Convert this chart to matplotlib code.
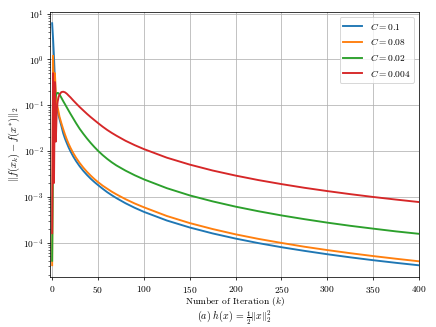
import matplotlib
matplotlib.use("Agg")
import matplotlib.pyplot as plt

plt.rcParams['font.family'] = 'serif'
plt.rcParams['font.serif'] = ['cmr10']
plt.rcParams['mathtext.fontset'] = 'cm'
plt.rcParams['axes.unicode_minus'] = False
plt.rcParams['axes.formatter.use_mathtext'] = True

iters = [0, 1, 2, 3, 4, 5, 6, 7, 8, 10, 12, 14, 16, 18, 20, 23, 26, 30, 34, 38,
         42, 46, 50, 55, 60, 65, 70, 80, 90, 100, 125, 150, 175, 200, 225, 250,
         275, 300, 325, 350, 375, 400]

err_c01 = [6.17, 2.82, 1.12, 0.355, 0.141, 0.095, 0.076, 0.060, 0.050, 0.0355,
           0.0245, 0.0186, 0.0148, 0.0119, 0.0098, 0.00757, 0.00604, 0.00463,
           0.00367, 0.00299, 0.00248, 0.0021, 0.0018, 0.0015, 0.00126, 0.00108,
           9.35e-4, 7.21e-4, 5.74e-4, 4.68e-4, 3.03e-4, 2.13e-4, 1.58e-4, 1.22e-4,
           9.7e-5, 7.9e-5, 6.58e-5, 5.55e-5, 4.75e-5, 4.11e-5, 3.6e-5, 3.18e-5]
err_c008 = [3.2e-5, 1.20, 0.224, 0.50, 0.19, 0.112, 0.089, 0.071, 0.056, 0.0407,
            0.0302, 0.0229, 0.0178, 0.01426, 0.0117, 0.0090, 0.00714, 0.00546,
            0.00432, 0.0035, 0.0029, 0.00244, 0.00209, 0.00175, 0.0015, 0.00129,
            0.00113, 8.85e-4, 7.13e-4, 5.89e-4, 3.8e-4, 2.66e-4, 1.97e-4, 1.51e-4,
            1.2e-4, 9.8e-5, 8.1e-5, 6.84e-5, 5.85e-5, 5.06e-5, 4.42e-5, 3.89e-5]
err_c002 = [4.0e-5, 0.01, 0.063, 0.112, 0.158, 0.182, 0.186, 0.182, 0.172, 0.146,
            0.123, 0.105, 0.0891, 0.0759, 0.0646, 0.0513, 0.0407, 0.0305, 0.0237,
            0.0187, 0.01500, 0.01222, 0.0101, 0.00815, 0.00672, 0.00565, 0.00484,
            0.00372, 0.00295, 0.0024, 1.54e-3, 1.07e-3, 7.92e-4, 6.08e-4, 4.82e-4,
            3.91e-4, 3.24e-4, 2.72e-4, 2.32e-4, 2.01e-4, 1.75e-4, 1.55e-4]
err_c0004 = [1.6e-4, 0.5, 0.002, 0.32, 0.016, 0.079, 0.12, 0.151, 0.17, 0.193,
             0.197, 0.191, 0.178, 0.162, 0.148, 0.127, 0.110, 0.0912, 0.0767,
             0.0646, 0.055, 0.0473, 0.0407, 0.034, 0.0288, 0.0248, 0.0216, 0.0167,
             0.0134, 0.011, 7.14e-3, 5.04e-3, 3.74e-3, 2.9e-3, 2.31e-3, 1.89e-3,
             1.57e-3, 1.33e-3, 1.14e-3, 9.89e-4, 8.67e-4, 7.66e-4]

labels = [r'$C = 0.1$', r'$C = 0.08$', r'$C = 0.02$', r'$C = 0.004$']
series = [err_c01, err_c008, err_c002, err_c0004]

fig = plt.figure(figsize=(6.4, 4.8), dpi=68.125)
ax = fig.add_subplot(111)
fig.subplots_adjust(left=0.115, right=0.961, top=0.963, bottom=0.152)

for vals, lab in zip(series, labels):
    ax.plot(iters, vals, lw=2, label=lab)

ax.set_yscale('log')
ax.set_xlim(-2.2, 400)
ax.set_ylim(1.74e-5, 10.8)
ax.grid(True, which='major', color='#b0b0b0', lw=0.8)
ax.set_xlabel('Number of Iteration $(k)$', labelpad=0)
fig.text(0.537, 0.022, r'$(a)\ h(x) \,=\, \frac{1}{2}\|x\|_2^2$', fontsize=10.5,
         ha='center', va='baseline')
ax.set_ylabel(r'$\|f(x_k) - f(x^{*})\|_2$', fontsize=11, labelpad=1)
ax.legend(loc='upper right')

fig.savefig('out.png')
